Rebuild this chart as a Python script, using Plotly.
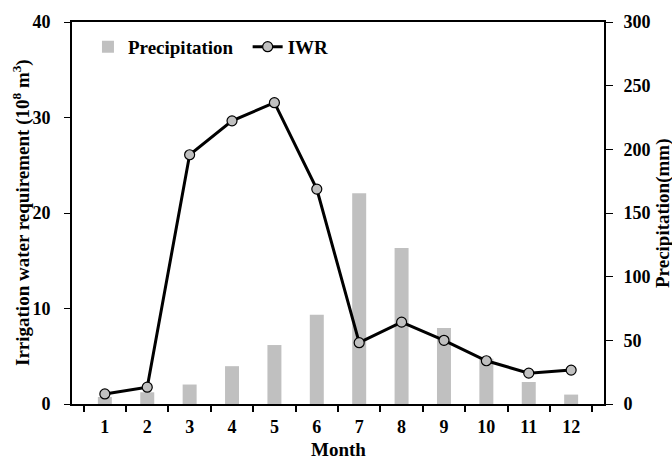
import plotly.graph_objects as go

months = [str(m) for m in range(1, 13)]
precip = [5.5, 9.2, 15.3, 29.7, 46.3, 70.1, 165.5, 122.5, 59.7, 35.5, 17.3, 7.4]
iwr = [1.05, 1.76, 26.1, 29.65, 31.55, 22.5, 6.42, 8.57, 6.67, 4.53, 3.23, 3.55]

font_family = "Liberation Serif"
fig = go.Figure()
fig.add_trace(go.Bar(
    x=months, y=precip, name="Precipitation&nbsp;&nbsp;", yaxis="y",
    marker=dict(color="#c0c0c0", line=dict(width=0)),
))
fig.add_trace(go.Scatter(
    x=months, y=iwr, name="IWR", yaxis="y2", mode="lines+markers",
    line=dict(color="black", width=3),
    marker=dict(size=10, color="#c0c0c0", line=dict(color="black", width=1.2)),
))

tickfont = dict(family=font_family, size=18, color="black", weight="bold")
titlefont = dict(family=font_family, size=19, color="black", weight="bold")

fig.update_layout(
    width=672, height=462,
    margin=dict(l=72, r=68, t=22, b=58),
    plot_bgcolor="white", paper_bgcolor="white",
    bargap=0.67,
    font=dict(family=font_family, color="black"),
    showlegend=True,
    legend=dict(
        orientation="h", x=0.03, y=0.935, xanchor="left", yanchor="middle",
        font=dict(family=font_family, size=19, color="black", weight="bold"),
        bgcolor="rgba(0,0,0,0)", itemwidth=30, tracegroupgap=0,
    ),
    xaxis=dict(
        type="category", tickson="boundaries", ticks="outside", ticklen=6,
        tickwidth=1.5, tickcolor="black", automargin=False,
        showline=True, linecolor="black", linewidth=2, mirror=True,
        showgrid=False, zeroline=False,
        tickfont=tickfont, ticklabelstandoff=5,
    ),
    yaxis=dict(
        side="right", range=[0, 300], dtick=50, ticks="outside", ticklen=7,
        tickwidth=1, tickcolor="black", automargin=False,
        showline=True, linecolor="black", linewidth=2,
        showgrid=False, zeroline=False,
        tickfont=tickfont, ticklabelstandoff=7,
    ),
    yaxis2=dict(
        overlaying="y", side="left", range=[0, 40], dtick=10, ticks="outside",
        ticklen=6, tickwidth=1, tickcolor="black", automargin=False,
        showline=True, linecolor="black", linewidth=2,
        showgrid=False, zeroline=False,
        tickfont=tickfont, ticklabelstandoff=10,
    ),
    annotations=[
        dict(text="Month", xref="paper", yref="paper", x=0.5, y=0,
             xanchor="center", yanchor="bottom", yshift=-57, showarrow=False,
             font=titlefont, borderpad=0),
        dict(text="Irrigation water requirement (10<sup>8</sup> m<sup>3</sup>)",
             xref="paper", yref="paper", x=0, y=0.5, textangle=-90,
             xanchor="center", yanchor="middle", xshift=-51, showarrow=False,
             font=titlefont),
        dict(text="Precipitation(mm)", xref="paper", yref="paper", x=1, y=0.5,
             textangle=-90, xanchor="center", yanchor="middle", xshift=59,
             showarrow=False, font=titlefont),
    ],
)

fig.write_html("out.html")
